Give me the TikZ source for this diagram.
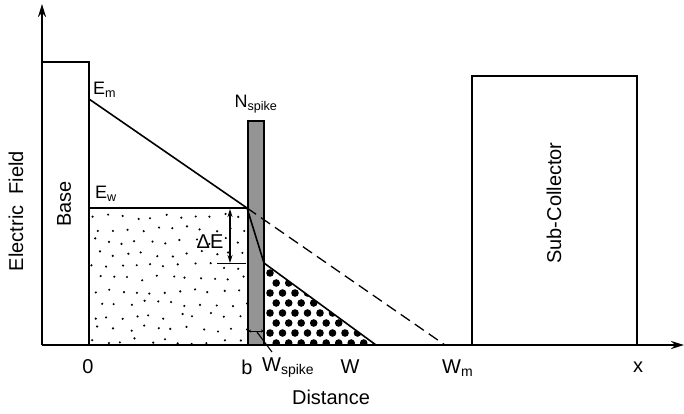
\documentclass[tikz,border=0pt]{standalone}
\usepackage{fontspec}
\setmainfont{Liberation Sans}
\usetikzlibrary{arrows.meta}
\begin{document}
\begin{tikzpicture}[x=1pt,y=-1pt,
  lbl/.style={font=\fontsize{20}{20}\selectfont, inner sep=0pt},
  slbl/.style={font=\fontsize{18}{18}\selectfont, inner sep=0pt},
  thick line/.style={line width=1.6pt},
  axis/.style={line width=2.2pt, -{Stealth[length=13pt,width=8pt]}},
  spike/.style={fill=black!42, draw=black, line width=1.4pt},
  box/.style={draw=black, line width=1.3pt}]
\useasboundingbox (0,0) rectangle (684,413);
% key coordinates
\coordinate (O) at (42,345);
\coordinate (Ytop) at (42,4);
\coordinate (Xend) at (684,345);
\coordinate (Em) at (89,99);
\coordinate (Ew) at (89,208);
\coordinate (P) at (247,208);
\coordinate (Q) at (264,263);
\coordinate (Wpt) at (376,345);
\coordinate (Wmpt) at (445,345);
% fine dots region
\begin{scope}
  \clip (89,209) rectangle (247,344);
  \pgfmathsetseed{7}
  \foreach \j in {0,...,10}{
    \foreach \i in {0,...,11}{
      \pgfmathsetmacro{\xx}{93+\i*14.5+mod(\j,2)*7+rand*3}
      \pgfmathsetmacro{\yy}{216+\j*12.5+rand*3}
      \fill (\xx,\yy) circle (1.2);
    }
  }
\end{scope}
% large dots region
\begin{scope}
  \clip (Q) -- (264,345) -- (Wpt) -- cycle;
  \foreach \j in {0,...,8}{
    \foreach \i in {0,...,10}{
      \pgfmathsetmacro{\xx}{270+\i*12.5+mod(\j,2)*6.2}
      \pgfmathsetmacro{\yy}{273+\j*10}
      \fill (\xx,\yy) circle (3.8);
    }
  }
\end{scope}
% base and sub-collector
\draw[box] (42,345) -- (42,62) -- (89,62) -- (89,345);
\draw[box] (472,345) -- (472,76) -- (637,76) -- (637,345);
% Ew plateau
\draw[thick line] (Ew) -- (P);
% spike
\draw[spike] (248,121) rectangle (264,345);
% field lines
\draw[thick line] (Em) -- (P) -- (Q) -- (Wpt);
\draw[line width=1.3pt, dash pattern=on 11pt off 6pt] (P) -- (Wmpt);
% axes
\draw[axis] (O) -- (Ytop);
\draw[axis] (O) -- (Xend);
% Delta E
\coordinate (dEtop) at (230,209);
\coordinate (dEbot) at (230,263);
\draw[line width=1pt] (217,263) -- (246,263);
\draw[line width=1.1pt, {Stealth[length=8pt,width=5pt]}-{Stealth[length=8pt,width=5pt]}] (dEtop) -- (dEbot);
% W spike marker
\coordinate (ws1) at (248,331);
\coordinate (ws2) at (264,331);
\draw[line width=0.6pt, {Stealth[length=3pt,width=3pt]}-{Stealth[length=3pt,width=3pt]}] (ws1) -- (ws2);
\coordinate (wsl) at (272,352);
\draw[line width=1.1pt] (257,332) -- (wsl);
% labels
\node[lbl, rotate=90] (ef) at (16,211) {Electric\ \ Field};
\node[lbl, rotate=90] (base) at (64,204) {Base};
\node[lbl, rotate=90] (sc) at (554,203) {Sub-Collector};
\node[slbl, anchor=west] (lEm) at (93,90) {E\textsubscript{m}};
\node[slbl, anchor=west] (lEw) at (95,194) {E\textsubscript{w}};
\node[slbl] (lNs) at (256,104) {N\textsubscript{spike}};
\node[lbl] (ldE) at (210,242) {ΔE};
\node[lbl] (l0) at (88,367) {0};
\node[lbl] (lb) at (247,367) {b};
\node[lbl, anchor=west] (lws) at (262,368) {W\textsubscript{spike}};
\node[lbl] (lW) at (350,367) {W};
\node[lbl, anchor=west] (lWm) at (442,368) {W\textsubscript{m}};
\node[lbl] (lx) at (638,367) {x};
\node[lbl] (ldist) at (331,397) {Distance};
\end{tikzpicture}
\end{document}
